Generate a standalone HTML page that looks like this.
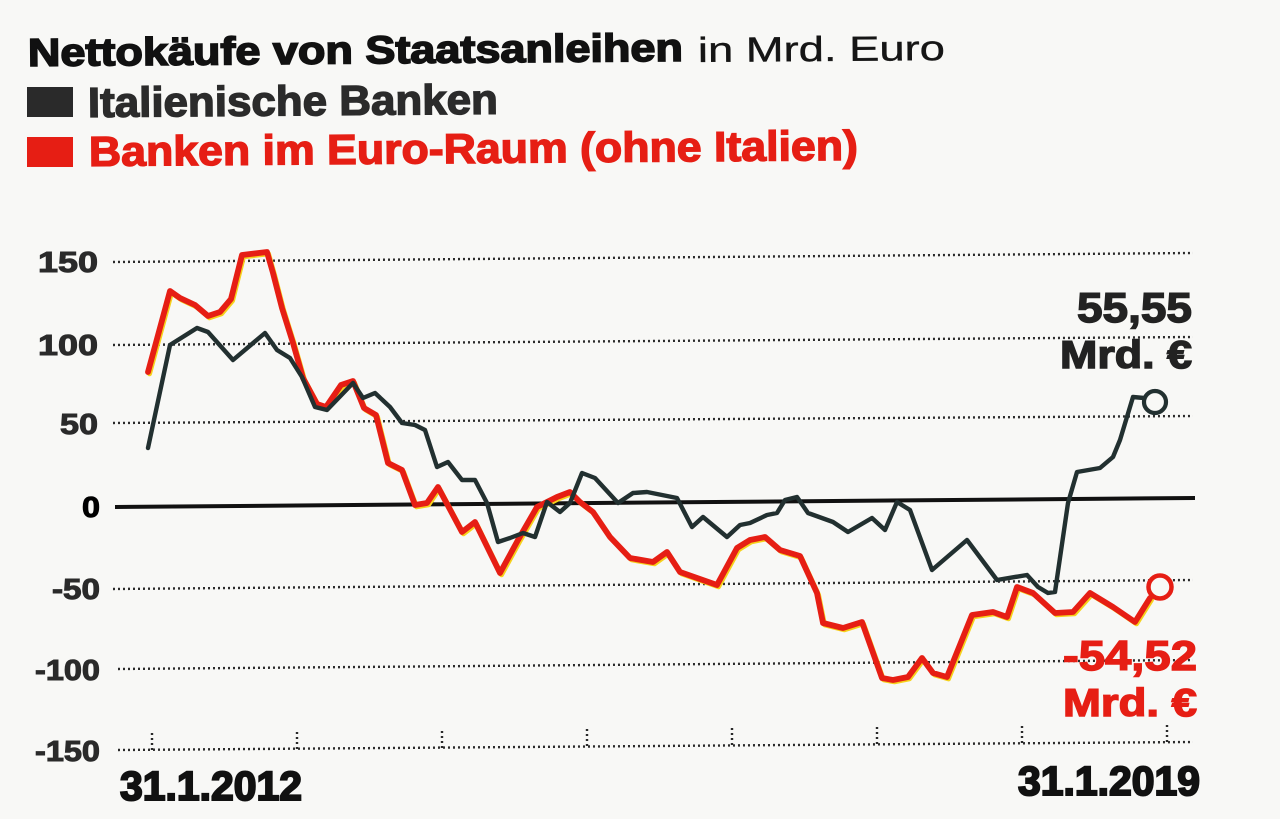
<!DOCTYPE html>
<html>
<head>
<meta charset="utf-8">
<style>
  html,body{margin:0;padding:0;background:#f8f8f6;}
  svg{display:block;}
  text{font-family:"Liberation Sans","DejaVu Sans",sans-serif;}
</style>
</head>
<body>
<svg width="1280" height="819" viewBox="0 0 1280 819" xmlns="http://www.w3.org/2000/svg">
  <rect x="0" y="0" width="1280" height="819" fill="#f8f8f6"/>

  <!-- Title -->
  <text x="28" y="66" font-size="39" font-weight="bold" fill="#111" stroke="#111" stroke-width="1.6" paint-order="stroke" textLength="655" lengthAdjust="spacingAndGlyphs" transform="rotate(-0.45 28 66)">Nettokäufe von Staatsanleihen</text>
  <text x="698" y="62" font-size="35" fill="#151515" stroke="#151515" stroke-width="0.4" textLength="247" lengthAdjust="spacingAndGlyphs" transform="rotate(-0.45 698 62)">in Mrd. Euro</text>

  <!-- Legend -->
  <rect x="27" y="87" width="46" height="30" fill="#2a2a2a"/>
  <text x="88" y="117" font-size="42" font-weight="bold" fill="#2b2b2b" stroke="#2b2b2b" stroke-width="1.4" paint-order="stroke" textLength="410" lengthAdjust="spacingAndGlyphs" transform="rotate(-0.45 88 117)">Italienische Banken</text>
  <rect x="27" y="137" width="46" height="30" fill="#e61e14"/>
  <text x="89" y="166" font-size="42" font-weight="bold" fill="#e61e14" stroke="#e61e14" stroke-width="1.4" paint-order="stroke" textLength="769" lengthAdjust="spacingAndGlyphs" transform="rotate(-0.45 89 166)">Banken im Euro-Raum (ohne Italien)</text>

  <!-- Grid lines (slightly tilted like the scan) -->
  <g stroke="#2a2a2a" stroke-width="2.4" stroke-dasharray="2 3" fill="none">
    <line x1="113" y1="262" x2="1193" y2="253"/>
    <line x1="113" y1="345" x2="1193" y2="337"/>
    <line x1="113" y1="423" x2="1193" y2="416"/>
    <line x1="113" y1="589" x2="1193" y2="580"/>
    <line x1="118" y1="669" x2="1193" y2="660"/>
    <line x1="118" y1="750" x2="1193" y2="742"/>
    <!-- ticks -->
    <line x1="152" y1="750" x2="152" y2="730"/>
    <line x1="297" y1="749" x2="297" y2="729"/>
    <line x1="442" y1="748" x2="442" y2="728"/>
    <line x1="587" y1="746" x2="587" y2="726"/>
    <line x1="732" y1="745" x2="732" y2="725"/>
    <line x1="877" y1="744" x2="877" y2="724"/>
    <line x1="1022" y1="743" x2="1022" y2="723"/>
    <line x1="1167" y1="742" x2="1167" y2="722"/>
  </g>
  <!-- Zero line -->
  <line x1="115" y1="507" x2="1195" y2="498" stroke="#111" stroke-width="4"/>

  <!-- Y labels -->
  <g font-size="29" font-weight="bold" fill="#2a2a2a" stroke="#2a2a2a" stroke-width="1" paint-order="stroke">
    <text x="38" y="272" textLength="60" lengthAdjust="spacingAndGlyphs">150</text>
    <text x="38" y="355" textLength="60" lengthAdjust="spacingAndGlyphs">100</text>
    <text x="60" y="434" textLength="38" lengthAdjust="spacingAndGlyphs">50</text>
    <text x="82" y="517" textLength="18" lengthAdjust="spacingAndGlyphs" fill="#000" stroke="#000">0</text>
    <text x="52" y="599" textLength="48" lengthAdjust="spacingAndGlyphs">-50</text>
    <text x="35" y="680" textLength="65" lengthAdjust="spacingAndGlyphs">-100</text>
    <text x="35" y="761" textLength="65" lengthAdjust="spacingAndGlyphs">-150</text>
  </g>

  <!-- X labels -->
  <text x="120" y="800" font-size="41" font-weight="bold" fill="#111" stroke="#111" stroke-width="2" paint-order="stroke" textLength="182" lengthAdjust="spacingAndGlyphs">31.1.2012</text>
  <text x="1018" y="795" font-size="41" font-weight="bold" fill="#111" stroke="#111" stroke-width="2" paint-order="stroke" textLength="182" lengthAdjust="spacingAndGlyphs">31.1.2019</text>

  <!-- Red series: yellow fringe + red line -->
  <g fill="none" stroke-linejoin="round" stroke-linecap="round">
    <polyline transform="translate(1.5 1.8)" stroke="#f6d21c" stroke-width="5" points="148,372 170,291 180,298 195,305 208,316 220,312 231,299 242,255 267,252 273,273 282,308 293,343 303,378 317,404 326,407 341,385 353,381 364,408 376,415 388,463 402,470 415,505 427,503 438,487 462,532 475,522 500,573 518,540 537,507 557,497 570,492 580,502 593,512 610,537 630,558 653,562 667,552 680,572 717,585 737,548 750,540 765,537 780,550 800,556 817,593 823,623 843,628 862,622 882,678 893,680 908,677 922,658 933,673 947,677 972,615 993,612 1007,617 1017,587 1033,593 1055,613 1073,612 1090,593 1113,607 1135,622 1150,598"/>
    <polyline stroke="#e61e14" stroke-width="5.8" points="148,372 170,291 180,298 195,305 208,316 220,312 231,299 242,255 267,252 273,273 282,308 293,343 303,378 317,404 326,407 341,385 353,381 364,408 376,415 388,463 402,470 415,505 427,503 438,487 462,532 475,522 500,573 518,540 537,507 557,497 570,492 580,502 593,512 610,537 630,558 653,562 667,552 680,572 717,585 737,548 750,540 765,537 780,550 800,556 817,593 823,623 843,628 862,622 882,678 893,680 908,677 922,658 933,673 947,677 972,615 993,612 1007,617 1017,587 1033,593 1055,613 1073,612 1090,593 1113,607 1135,622 1150,598"/>
    <circle cx="1160" cy="587" r="11.5" stroke="#e61e14" stroke-width="4.5" fill="#f8f8f6"/>
  </g>

  <!-- Black series -->
  <g fill="none" stroke-linejoin="round" stroke-linecap="round">
    <polyline stroke="#223030" stroke-width="4.4" points="148,448 170,345 197,328 208,332 233,360 265,333 277,350 290,358 302,377 315,407 327,410 353,383 363,398 375,393 390,407 402,423 415,425 425,430 437,467 448,462 462,480 475,480 487,503 498,542 510,538 523,533 535,537 547,502 560,512 570,503 582,473 595,478 618,503 633,493 647,492 677,498 692,527 703,517 727,537 740,525 750,523 767,515 777,513 785,500 797,497 808,513 833,522 848,532 872,518 885,530 897,502 910,510 932,570 967,540 997,580 1027,575 1038,587 1048,593 1055,592 1068,503 1077,472 1100,468 1113,457 1120,440 1133,397 1144,398"/>
    <circle cx="1155" cy="402" r="11" stroke="#223030" stroke-width="4.2" fill="#f8f8f6"/>
  </g>

  <!-- Annotations -->
  <text x="1077" y="322" font-size="42" font-weight="bold" fill="#222" stroke="#222" stroke-width="1.4" paint-order="stroke" textLength="115" lengthAdjust="spacingAndGlyphs">55,55</text>
  <text x="1060" y="368" font-size="39" font-weight="bold" fill="#222" stroke="#222" stroke-width="1.4" paint-order="stroke" textLength="132" lengthAdjust="spacingAndGlyphs">Mrd. €</text>
  <text x="1063" y="670" font-size="42" font-weight="bold" fill="#e61e14" stroke="#e61e14" stroke-width="1.4" paint-order="stroke" textLength="134" lengthAdjust="spacingAndGlyphs">-54,52</text>
  <text x="1063" y="716" font-size="39" font-weight="bold" fill="#e61e14" stroke="#e61e14" stroke-width="1.4" paint-order="stroke" textLength="134" lengthAdjust="spacingAndGlyphs">Mrd. €</text>
</svg>
</body>
</html>
